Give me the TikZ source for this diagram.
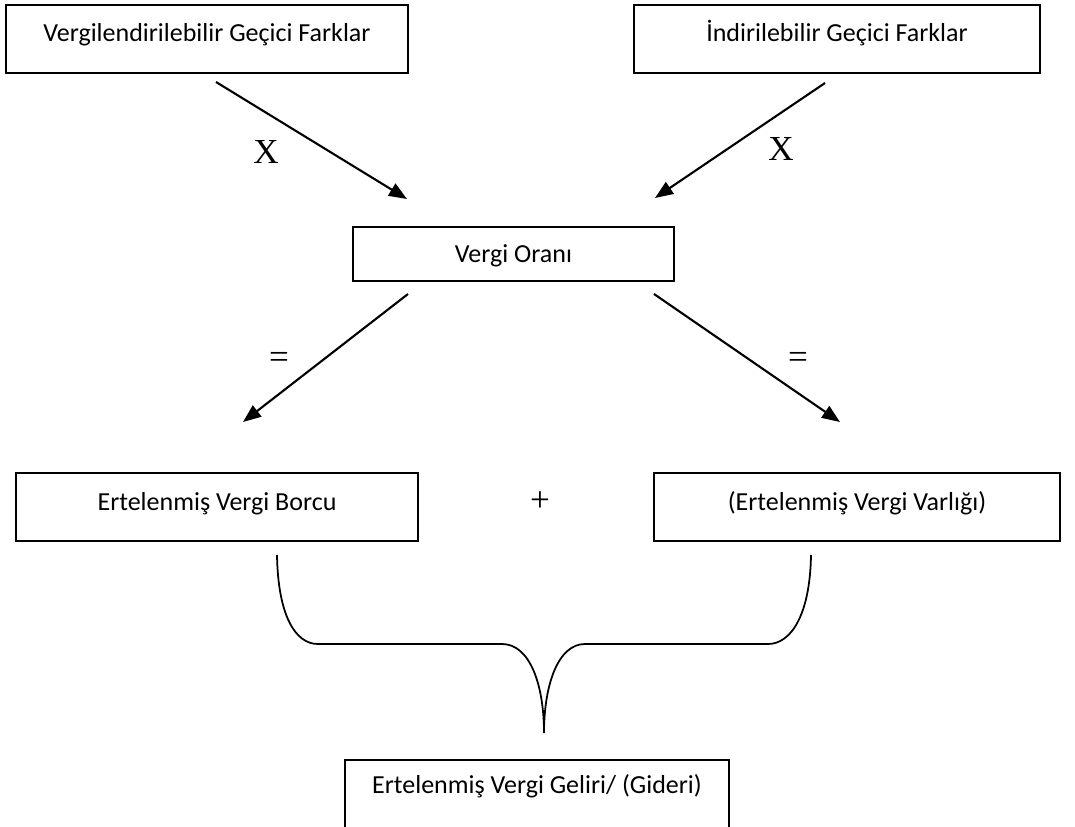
\documentclass[tikz,border=0pt]{standalone}
\usepackage{fontspec}
\setmainfont{Carlito}
\newfontfamily\signfont{Liberation Serif}
\usetikzlibrary{arrows.meta}
\begin{document}
\begin{tikzpicture}[x=0.02cm, y=-0.02cm,
        box/.style = {draw, line width=1pt, inner sep=0pt, font=\fontsize{14.8}{17}\selectfont},
        sign/.style = {font=\signfont\fontsize{20}{22}\selectfont},
        link/.style = {line width=1.2pt, -{Triangle[length=0.36cm, width=0.28cm]}}]
        \clip (0,0) rectangle (1075,827);
        % kutular
        \node[box, minimum width=8.04cm, text height=0.74cm, text depth=0.62cm] (vgf) at (207,39) {Vergilendirilebilir Geçici Farklar};
        \node[box, minimum width=8.12cm, text height=0.74cm, text depth=0.62cm] (igf) at (837,39) {İndirilebilir Geçici Farklar};
        \node[box, minimum width=6.42cm, text height=0.72cm, text depth=0.36cm] (oran) at (513.5,254) {Vergi Oranı};
        \node[box, minimum width=8.04cm, text height=0.76cm, text depth=0.60cm] (borc) at (217,507) {Ertelenmiş Vergi Borcu};
        \node[box, minimum width=8.12cm, text height=0.76cm, text depth=0.60cm] (varlik) at (857,507) {(Ertelenmiş Vergi Varlığı)};
        \node[box, minimum width=7.68cm, text height=0.68cm, text depth=0.80cm, anchor=north] (gelir) at (537,759) {Ertelenmiş Vergi Geliri/ (Gideri)};
        % isaretler
        \node[sign] (x1) at (266,152) {X};
        \node[sign] (x2) at (781,149) {X};
        \node[sign] (e1) at (279,360) {=};
        \node[sign] (e2) at (798,360) {=};
        \node[sign] (arti) at (540,502) {+};
        % ok uclari
        \coordinate (a1) at (216,82);  \coordinate (b1) at (407,199);
        \coordinate (a2) at (825,83);  \coordinate (b2) at (655,198);
        \coordinate (a3) at (408,294); \coordinate (b3) at (243,422);
        \coordinate (a4) at (654,294); \coordinate (b4) at (840,422);
        \draw[link] (a1) -- (b1);
        \draw[link] (a2) -- (b2);
        \draw[link] (a3) -- (b3);
        \draw[link] (a4) -- (b4);
        % kume parantezi
        \draw[line width=1pt] (277,555) .. controls (278,615) and (295,644) .. (318,644) -- (502,644)
            .. controls (530,644) and (544,685) .. (544,733)
            .. controls (544,685) and (558,644) .. (585,644) -- (768,644)
            .. controls (791,644) and (810,615) .. (811,555);
    \end{tikzpicture}
\end{document}
